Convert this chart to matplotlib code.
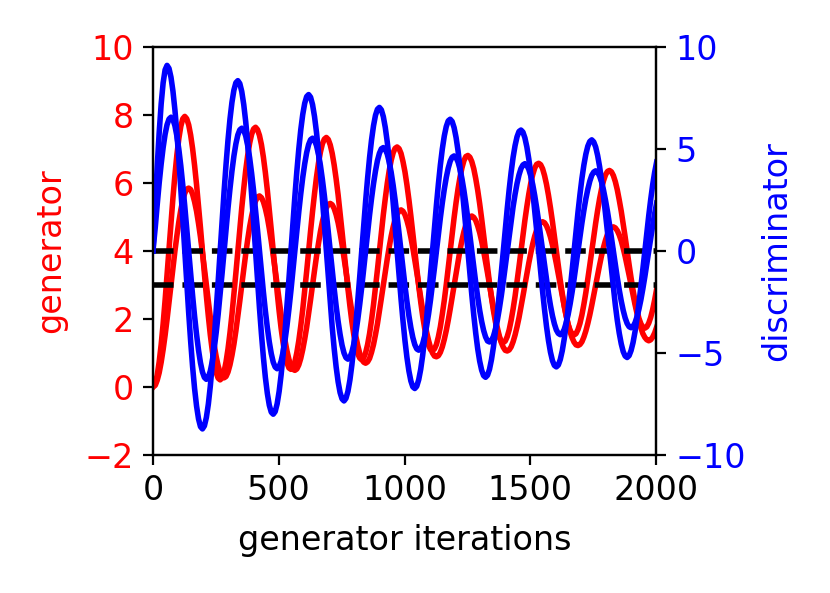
import matplotlib
matplotlib.use("Agg")
import matplotlib.pyplot as plt

# generator iterations at which the curves are sampled (shared by all four runs)
iters = [0, 9.1, 16.9, 24.7, 32.6, 40.4, 48.2,
         56.0, 63.8, 71.6, 79.5, 87.3, 95.1, 102.9, 110.7, 118.5, 126.4, 134.2, 142.0, 149.8, 157.6, 165.4, 173.3, 181.1, 188.9,
         196.7, 204.5, 212.3, 220.2, 228.0, 235.8, 243.6, 251.4, 259.2, 267.1, 274.9, 282.7, 290.5, 298.3, 306.1, 314.0, 321.8, 329.6,
         337.4, 345.2, 353.0, 360.9, 368.7, 376.5, 384.3, 392.1, 399.9, 407.8, 415.6, 423.4, 431.2, 439.0, 446.8, 454.7, 462.5, 470.3,
         478.1, 485.9, 493.7, 501.6, 509.4, 517.2, 525.0, 532.8, 540.6, 548.5, 556.3, 564.1, 571.9, 579.7, 587.5, 595.4, 603.2, 611.0,
         618.8, 626.6, 634.4, 642.3, 650.1, 657.9, 665.7, 673.5, 681.3, 689.2, 697.0, 704.8, 712.6, 720.4, 728.2, 736.1, 743.9, 751.7,
         759.5, 767.3, 775.1, 783.0, 790.8, 798.6, 806.4, 814.2, 822.0, 829.9, 837.7, 845.5, 853.3, 861.1, 868.9, 876.8, 884.6, 892.4,
         900.2, 908.0, 915.8, 923.7, 931.5, 939.3, 947.1, 954.9, 962.7, 970.6, 978.4, 986.2, 994.0, 1001.8, 1009.6, 1017.5, 1025.3, 1033.1,
         1040.9, 1048.7, 1056.5, 1064.4, 1072.2, 1080.0, 1087.8, 1095.6, 1103.4, 1111.3, 1119.1, 1126.9, 1134.7, 1142.5, 1150.3, 1158.2, 1166.0, 1173.8,
         1181.6, 1189.4, 1197.2, 1205.1, 1212.9, 1220.7, 1228.5, 1236.3, 1244.1, 1252.0, 1259.8, 1267.6, 1275.4, 1283.2, 1291.0, 1298.9, 1306.7, 1314.5,
         1322.3, 1330.1, 1337.9, 1345.8, 1353.6, 1361.4, 1369.2, 1377.0, 1384.8, 1392.7, 1400.5, 1408.3, 1416.1, 1423.9, 1431.7, 1439.6, 1447.4, 1455.2,
         1463.0, 1470.8, 1478.6, 1486.5, 1494.3, 1502.1, 1509.9, 1517.7, 1525.5, 1533.4, 1541.2, 1549.0, 1556.8, 1564.6, 1572.4, 1580.3, 1588.1, 1595.9,
         1603.7, 1611.5, 1619.3, 1627.2, 1635.0, 1642.8, 1650.6, 1658.4, 1666.2, 1674.1, 1681.9, 1689.7, 1697.5, 1705.3, 1713.1, 1721.0, 1728.8, 1736.6,
         1744.4, 1752.2, 1760.0, 1767.9, 1775.7, 1783.5, 1791.3, 1799.1, 1806.9, 1814.8, 1822.6, 1830.4, 1838.2, 1846.0, 1853.8, 1861.7, 1869.5, 1877.3,
         1885.1, 1892.9, 1900.7, 1908.6, 1916.4, 1924.2, 1932.0, 1939.8, 1947.6, 1955.5, 1963.3, 1971.1, 1978.9, 1986.7, 1994.5, 2002.4]

# discriminator, run 1 (large swing)
disc_a = [0, 2.29, 4.16, 5.81, 7.21, 8.24, 8.88, 9.10,
          8.95, 8.52, 7.83, 6.91, 5.78, 4.49, 3.06, 1.56,
          0, -1.54, -3.03, -4.42, -5.68, -6.74, -7.60, -8.23, -8.61, -8.72, -8.57, -8.16, -7.50, -6.62, -5.54, -4.30, -2.93, -1.49,
          0, 1.48, 2.91, 4.24, 5.44, 6.46, 7.29, 7.89, 8.25, 8.35, 8.21, 7.82, 7.18, 6.34, 5.31, 4.12, 2.81, 1.43,
          0, -1.42, -2.79, -4.06, -5.21, -6.19, -6.98, -7.56, -7.90, -8.00, -7.87, -7.49, -6.88, -6.08, -5.08, -3.95, -2.69, -1.37,
          0, 1.36, 2.67, 3.89, 4.99, 5.93, 6.69, 7.24, 7.57, 7.67, 7.54, 7.18, 6.59, 5.82, 4.87, 3.78, 2.58, 1.31,
          0, -1.30, -2.56, -3.73, -4.78, -5.68, -6.41, -6.94, -7.25, -7.35, -7.22, -6.88, -6.32, -5.58, -4.67, -3.62, -2.47, -1.26,
          0, 1.25, 2.45, 3.57, 4.58, 5.44, 6.14, 6.65, 6.95, 7.04, 6.92, 6.59, 6.05, 5.34, 4.47, 3.47, 2.37, 1.20,
          0, -1.19, -2.35, -3.42, -4.39, -5.21, -5.88, -6.37, -6.66, -6.74, -6.63, -6.31, -5.80, -5.12, -4.28, -3.33, -2.27, -1.15,
          0, 1.14, 2.25, 3.28, 4.21, 5.00, 5.64, 6.10, 6.38, 6.46, 6.35, 6.05, 5.56, 4.91, 4.10, 3.19, 2.17, 1.11,
          0, -1.10, -2.15, -3.14, -4.03, -4.79, -5.40, -5.84, -6.11, -6.19, -6.09, -5.80, -5.32, -4.70, -3.93, -3.05, -2.08, -1.06,
          0, 1.05, 2.06, 3.01, 3.86, 4.59, 5.17, 5.60, 5.86, 5.93, 5.83, 5.55, 5.10, 4.50, 3.77, 2.92, 1.99, 1.01,
          0, -1.01, -1.98, -2.88, -3.70, -4.39, -4.96, -5.37, -5.61, -5.68, -5.59, -5.32, -4.89, -4.31, -3.61, -2.80, -1.91, -0.97,
          0, 0.96, 1.90, 2.76, 3.55, 4.21, 4.75, 5.14, 5.37, 5.45, 5.35, 5.10, 4.68, 4.13, 3.46, 2.68, 1.83, 0.93,
          0, -0.92, -1.82, -2.65, -3.40, -4.03, -4.55, -4.93, -5.15, -5.22, -5.13, -4.88, -4.49, -3.96, -3.31, -2.57, -1.75, -0.89,
          0, 0.89, 1.74, 2.53, 3.25, 3.86, 4.36]

# discriminator, run 2 (smaller swing)
disc_b = [0, 1.16, 2.28, 3.33, 4.27, 5.07, 5.72, 6.19, 6.47, 6.56,
          6.45, 6.14, 5.64, 4.98, 4.17, 3.23, 2.20, 1.12,
          0, -1.11, -2.19, -3.19, -4.09, -4.86, -5.48, -5.93, -6.20, -6.29, -6.18, -5.88, -5.41, -4.77, -3.99, -3.10, -2.11, -1.08,
          0, 1.07, 2.10, 3.05, 3.92, 4.66, 5.25, 5.69, 5.94, 6.02, 5.92, 5.64, 5.18, 4.57, 3.82, 2.97, 2.02, 1.03,
          0, -1.02, -2.01, -2.93, -3.76, -4.46, -5.03, -5.45, -5.69, -5.77, -5.67, -5.40, -4.96, -4.38, -3.66, -2.84, -1.94, -0.99,
          0, 0.98, 1.92, 2.80, 3.60, 4.27, 4.82, 5.22, 5.46, 5.53, 5.43, 5.17, 4.75, 4.20, 3.51, 2.73, 1.86, 0.95,
          0, -0.94, -1.84, -2.69, -3.45, -4.09, -4.62, -5.00, -5.23, -5.30, -5.21, -4.96, -4.56, -4.02, -3.36, -2.61, -1.78, -0.91,
          0, 0.90, 1.77, 2.57, 3.30, 3.92, 4.43, 4.79, 5.01, 5.07, 4.99, 4.75, 4.36, 3.85, 3.22, 2.50, 1.71, 0.87,
          0, -0.86, -1.69, -2.47, -3.17, -3.76, -4.24, -4.59, -4.80, -4.86, -4.78, -4.55, -4.18, -3.69, -3.09, -2.40, -1.63, -0.83,
          0, 0.82, 1.62, 2.36, 3.03, 3.60, 4.06, 4.40, 4.60, 4.66, 4.58, 4.36, 4.01, 3.54, 2.96, 2.30, 1.57, 0.80,
          0, -0.79, -1.55, -2.26, -2.91, -3.45, -3.89, -4.21, -4.41, -4.46, -4.39, -4.18, -3.84, -3.39, -2.83, -2.20, -1.50, -0.76,
          0, 0.76, 1.49, 2.17, 2.78, 3.31, 3.73, 4.04, 4.22, 4.28, 4.20, 4.00, 3.68, 3.25, 2.72, 2.11, 1.44, 0.73,
          0, -0.73, -1.43, -2.08, -2.67, -3.17, -3.57, -3.87, -4.04, -4.10, -4.03, -3.84, -3.52, -3.11, -2.60, -2.02, -1.38, -0.70,
          0, 0.70, 1.37, 1.99, 2.56, 3.03, 3.42, 3.71, 3.87, 3.93, 3.86, 3.67, 3.38, 2.98, 2.49, 1.94, 1.32, 0.67,
          0, -0.67, -1.31, -1.91, -2.45, -2.91, -3.28, -3.55, -3.71, -3.76, -3.70, -3.52, -3.23, -2.85, -2.39, -1.85, -1.26, -0.64,
          0, 0.64, 1.25, 1.83, 2.35]

# generator, run 1 (target 4)
gen_a = [0.00, 0.10, 0.35, 0.74, 1.25, 1.86, 2.55, 3.29, 4.06, 4.83, 5.57, 6.24, 6.83, 7.31, 7.67, 7.89, 7.96,
         7.89, 7.71, 7.41, 7.01, 6.52, 5.95, 5.33, 4.68,
         4.00, 3.33, 2.68, 2.08, 1.53, 1.07, 0.69, 0.42, 0.26, 0.21, 0.27, 0.45, 0.74, 1.12, 1.59, 2.13, 2.73, 3.35,
         4.00, 4.64, 5.27, 5.84, 6.37, 6.81, 7.17, 7.43, 7.59, 7.64, 7.57, 7.40, 7.13, 6.76, 6.31, 5.79, 5.22, 4.62,
         4.00, 3.38, 2.79, 2.23, 1.73, 1.31, 0.96, 0.71, 0.56, 0.52, 0.58, 0.74, 1.01, 1.36, 1.79, 2.28, 2.83, 3.40,
         4.00, 4.59, 5.16, 5.69, 6.17, 6.58, 6.91, 7.15, 7.29, 7.34, 7.28, 7.12, 6.87, 6.53, 6.12, 5.65, 5.12, 4.57,
         4.00, 3.43, 2.89, 2.38, 1.92, 1.53, 1.21, 0.98, 0.85, 0.80, 0.86, 1.01, 1.25, 1.57, 1.97, 2.42, 2.93, 3.45,
         4.00, 4.54, 5.07, 5.55, 5.99, 6.37, 6.67, 6.89, 7.02, 7.06, 7.01, 6.87, 6.63, 6.33, 5.95, 5.51, 5.03, 4.52,
         4.00, 3.48, 2.98, 2.51, 2.09, 1.73, 1.44, 1.23, 1.10, 1.07, 1.12, 1.25, 1.48, 1.77, 2.14, 2.55, 3.01, 3.50,
         4.00, 4.50, 4.98, 5.43, 5.83, 6.17, 6.45, 6.66, 6.78, 6.81, 6.76, 6.63, 6.42, 6.13, 5.79, 5.39, 4.95, 4.48,
         4.00, 3.52, 3.06, 2.63, 2.25, 1.92, 1.65, 1.46, 1.34, 1.31, 1.35, 1.48, 1.68, 1.96, 2.29, 2.67, 3.10, 3.54,
         4.00, 4.46, 4.90, 5.31, 5.68, 6.00, 6.25, 6.44, 6.55, 6.58, 6.54, 6.42, 6.22, 5.96, 5.64, 5.27, 4.87, 4.44,
         4.00, 3.56, 3.14, 2.75, 2.39, 2.09, 1.84, 1.67, 1.56, 1.53, 1.57, 1.69, 1.87, 2.12, 2.43, 2.78, 3.17, 3.58,
         4.00, 4.42, 4.82, 5.20, 5.54, 5.83, 6.07, 6.24, 6.34, 6.37, 6.33, 6.22, 6.04, 5.80, 5.50, 5.17, 4.80, 4.41,
         4.00, 3.60, 3.21, 2.85, 2.52, 2.25, 2.02, 1.86, 1.76, 1.73, 1.77, 1.88, 2.05, 2.28, 2.56, 2.88]

# generator, run 2 (target 3)
gen_b = [0.00, 0.05, 0.20, 0.42, 0.73, 1.10, 1.52, 1.99, 2.49, 3.00, 3.51, 4.00, 4.45, 4.86, 5.21, 5.49, 5.70, 5.82, 5.85,
         5.81, 5.67, 5.45, 5.17, 4.81, 4.41, 3.96, 3.49,
         3.00, 2.52, 2.05, 1.61, 1.22, 0.89, 0.62, 0.42, 0.30, 0.27, 0.31, 0.44, 0.65, 0.93, 1.26, 1.65, 2.08, 2.53,
         3.00, 3.46, 3.91, 4.33, 4.71, 5.02, 5.28, 5.47, 5.59, 5.62, 5.57, 5.45, 5.25, 4.99, 4.66, 4.29, 3.88, 3.45,
         3.00, 2.56, 2.13, 1.73, 1.37, 1.06, 0.81, 0.63, 0.52, 0.49, 0.53, 0.65, 0.84, 1.10, 1.41, 1.76, 2.16, 2.57,
         3.00, 3.43, 3.84, 4.22, 4.57, 4.86, 5.10, 5.27, 5.37, 5.40, 5.36, 5.25, 5.07, 4.83, 4.53, 4.19, 3.81, 3.41,
         3.00, 2.59, 2.20, 1.83, 1.50, 1.22, 0.99, 0.83, 0.73, 0.70, 0.74, 0.84, 1.02, 1.25, 1.54, 1.86, 2.23, 2.61,
         3.00, 3.39, 3.77, 4.12, 4.44, 4.71, 4.93, 5.08, 5.18, 5.21, 5.17, 5.07, 4.90, 4.68, 4.40, 4.09, 3.74, 3.38,
         3.00, 2.63, 2.26, 1.93, 1.62, 1.37, 1.16, 1.00, 0.91, 0.89, 0.92, 1.02, 1.18, 1.40, 1.66, 1.96, 2.29, 2.64,
         3.00, 3.36, 3.71, 4.03, 4.32, 4.57, 4.77, 4.91, 5.00, 5.03, 4.99, 4.90, 4.74, 4.54, 4.29, 4.00, 3.68, 3.35,
         3.00, 2.66, 2.33, 2.02, 1.74, 1.50, 1.31, 1.17, 1.08, 1.06, 1.09, 1.18, 1.33, 1.53, 1.77, 2.04, 2.35, 2.67,
         3.00, 3.33, 3.65, 3.94, 4.21, 4.44, 4.62, 4.76, 4.84, 4.86, 4.83, 4.74, 4.60, 4.41, 4.18, 3.92, 3.63, 3.32,
         3.00, 2.69, 2.38, 2.10, 1.84, 1.62, 1.45, 1.32, 1.24, 1.22, 1.25, 1.33, 1.47, 1.65, 1.87, 2.12, 2.40, 2.70,
         3.00, 3.30, 3.59, 3.87, 4.11, 4.32, 4.49, 4.61, 4.69, 4.71, 4.68, 4.60, 4.47, 4.30, 4.08, 3.84, 3.57, 3.29,
         3.00, 2.71, 2.43, 2.17, 1.94, 1.74, 1.57, 1.46, 1.39, 1.36, 1.39, 1.47, 1.59, 1.76]

targets = [4, 3]

plt.rcParams['font.size'] = 12

fig = plt.figure(figsize=(4.15, 2.965), dpi=200)
ax1 = fig.add_axes([0.1843, 0.2327, 0.6061, 0.688])
ax2 = ax1.twinx()

ax1.plot(iters, gen_a, color='red', linewidth=2)
ax1.plot(iters, gen_b, color='red', linewidth=2)
for t in targets:
    ax1.axhline(t, color='black', linestyle='--', linewidth=2)

ax2.plot(iters, disc_a, color='blue', linewidth=2)
ax2.plot(iters, disc_b, color='blue', linewidth=2)

ax1.set_xlim(0, 2000)
ax1.set_xticks([0, 500, 1000, 1500, 2000])
ax1.set_ylim(-2, 10)
ax1.set_yticks([-2, 0, 2, 4, 6, 8, 10])
ax2.set_ylim(-10, 10)
ax2.set_yticks([-10, -5, 0, 5, 10])

ax1.set_xlabel('generator iterations', labelpad=6)
ax1.set_ylabel('generator', color='red', labelpad=6)
ax2.set_ylabel('discriminator', color='blue', labelpad=5)
ax1.tick_params(axis='y', labelcolor='red')
ax2.tick_params(axis='y', labelcolor='blue')

fig.savefig('out.png', dpi=200)
